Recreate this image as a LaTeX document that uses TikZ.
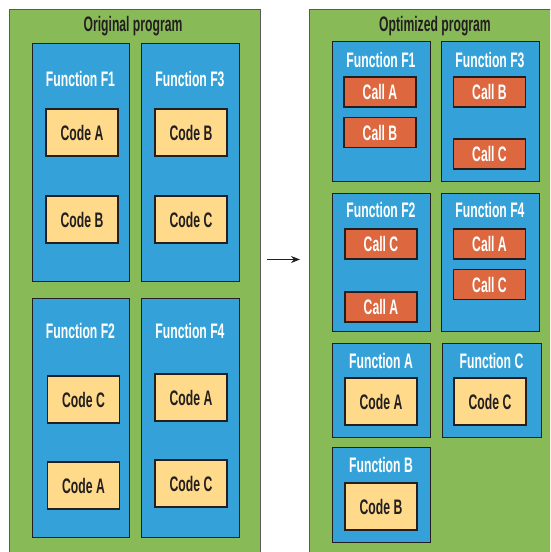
\documentclass[tikz,border=0pt]{standalone}
\usepackage{fontspec}
\newfontfamily\condfont[FakeStretch=0.58]{Liberation Sans}
\usetikzlibrary{arrows.meta}
\definecolor{panelgreen}{RGB}{137,186,88}
\definecolor{funcblue}{RGB}{52,162,216}
\definecolor{codeyellow}{RGB}{254,218,138}
\definecolor{callred}{RGB}{221,103,63}
\definecolor{ink}{RGB}{35,31,32}
\tikzset{
  x=1pt, y=-1pt,
  every node/.style={font=\condfont\bfseries\fontsize{21}{24}\selectfont, inner sep=0pt},
  panel/.style={draw=black!65, line width=0.9pt, fill=panelgreen, anchor=north west},
  funcbox/.style={draw=ink, line width=1.3pt, fill=funcblue, anchor=north west},
  codebox/.style={draw=ink, line width=1.3pt, fill=codeyellow, text=ink,
    minimum width=72pt, minimum height=47pt},
  callbox/.style={draw=ink, line width=1.3pt, fill=callred, text=white,
    minimum width=72pt, minimum height=30pt},
  flabel/.style={text=white},
  ptitle/.style={text=ink},
}
\begin{document}
\begin{tikzpicture}
\useasboundingbox (0,0) rectangle (550,552);
\clip (0,0) rectangle (550,552);
\fill[white] (0,0) rectangle (550,552);

% ---- original program ----
\node[panel, minimum width=251.5pt, minimum height=560pt] (orig) at (8.5,9) {};
\node[ptitle] (origt) at (133,26) {Original program};

\node[funcbox, minimum width=97pt, minimum height=238pt] (of1) at (32,43) {};
\node[funcbox, minimum width=98pt, minimum height=238pt] (of3) at (141,43) {};
\node[funcbox, minimum width=97pt, minimum height=239pt] (of2) at (32,298) {};
\node[funcbox, minimum width=98pt, minimum height=239pt] (of4) at (141,298) {};

\node[flabel] (of1t) at (80.5,79) {Function F1};
\node[flabel] (of3t) at (190,79) {Function F3};
\node[flabel] (of2t) at (80.5,331) {Function F2};
\node[flabel] (of4t) at (190,331) {Function F4};

\node[codebox] (of1a) at (82,132.5) {Code A};
\node[codebox] (of1b) at (82,219.5) {Code B};
\node[codebox] (of3b) at (191,132.5) {Code B};
\node[codebox] (of3c) at (191,219.5) {Code C};
\node[codebox] (of2c) at (83.5,399.5) {Code C};
\node[codebox] (of2a) at (83.5,485.5) {Code A};
\node[codebox] (of4a) at (191,397.5) {Code A};
\node[codebox] (of4c) at (191,483.5) {Code C};

% ---- transformation arrow ----
\coordinate (arrs) at (267,259.5);
\coordinate (arre) at (300,259.5);
\draw[ink, line width=1.5pt, -{Stealth[length=9pt,width=7pt]}] (arrs) -- (arre);

% ---- optimized program ----
\node[panel, minimum width=251pt, minimum height=560pt] (opt) at (309,9) {};
\node[ptitle] (optt) at (435,26) {Optimized program};

\node[funcbox, minimum width=98pt, minimum height=140pt] (nf1) at (332,41) {};
\node[funcbox, minimum width=98pt, minimum height=140pt] (nf3) at (441,41) {};
\node[funcbox, minimum width=98pt, minimum height=138pt] (nf2) at (332,193) {};
\node[funcbox, minimum width=98pt, minimum height=138pt] (nf4) at (441,193) {};

\node[flabel] (nf1t) at (381,60) {Function F1};
\node[flabel] (nf3t) at (490,60) {Function F3};
\node[flabel] (nf2t) at (381,210) {Function F2};
\node[flabel] (nf4t) at (490,210) {Function F4};

\node[callbox] (nf1a) at (380,92) {Call A};
\node[callbox] (nf1b) at (380,132.5) {Call B};
\node[callbox] (nf3b) at (489.5,92) {Call B};
\node[callbox] (nf3c) at (489.5,154) {Call C};
\node[callbox] (nf2c) at (381,244) {Call C};
\node[callbox] (nf2a) at (381,307) {Call A};
\node[callbox] (nf4a) at (489.5,244) {Call A};
\node[callbox] (nf4c) at (489.5,284.5) {Call C};

\node[funcbox, minimum width=98pt, minimum height=94pt] (nfa) at (332,343) {};
\node[funcbox, minimum width=99pt, minimum height=94pt] (nfc) at (442,343) {};
\node[funcbox, minimum width=98pt, minimum height=95pt] (nfb) at (332,447) {};

\node[flabel] (nfat) at (381,361) {Function A};
\node[flabel] (nfct) at (491.5,361) {Function C};
\node[flabel] (nfbt) at (381,465) {Function B};

\node[codebox] (nfaa) at (381,401.5) {Code A};
\node[codebox] (nfcc) at (490,401.5) {Code C};
\node[codebox] (nfbb) at (381,506.5) {Code B};
\end{tikzpicture}
\end{document}
